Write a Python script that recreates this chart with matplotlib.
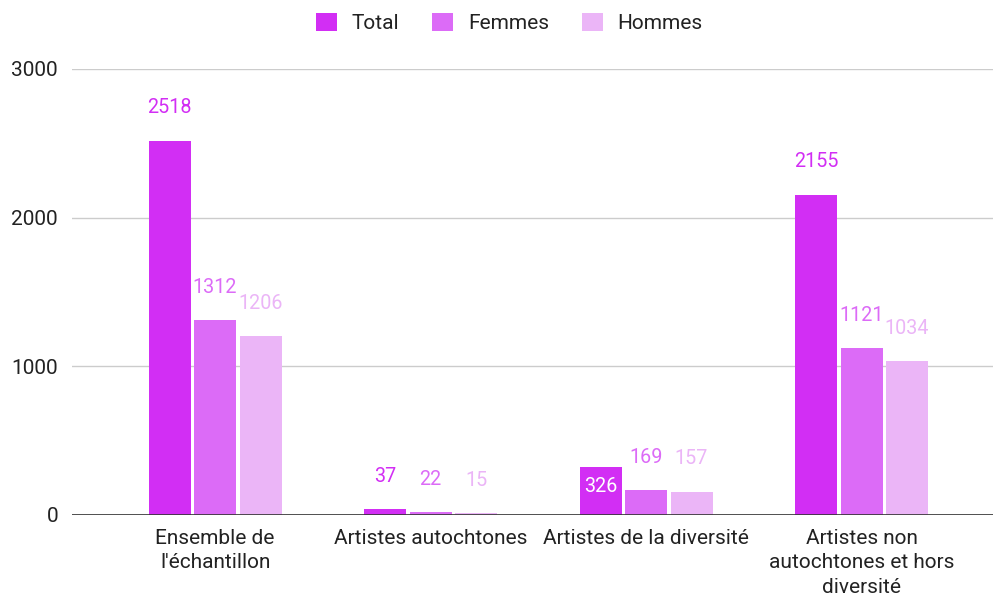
import matplotlib.pyplot as plt
import numpy as np

categories = ["Ensemble de\nl'échantillon", "Artistes autochtones",
              "Artistes de la diversité", "Artistes non\nautochtones et hors\ndiversité"]
series_names = ["Total", "Femmes", "Hommes"]
total = [2518, 37, 326, 2155]
femmes = [1312, 22, 169, 1121]
hommes = [1206, 15, 157, 1034]
colors = ["#d22ef4", "#dc6bf7", "#ebb5f7"]

plt.rcParams["font.family"] = ["Roboto", "DejaVu Sans"]

fig = plt.figure(figsize=(9.93, 5.96), dpi=100)
ax = fig.add_axes([72 / 993, 1 - 515 / 596, (993 - 72) / 993, (515 - 69) / 596])

x = np.arange(len(categories))
step = 0.211
width = 0.195
for i, (name, vals, c) in enumerate(zip(series_names, [total, femmes, hommes], colors)):
    pos = x + (i - 1) * step
    ax.bar(pos, vals, width=width, color=c, label=name, zorder=3)
    for p, v in zip(pos, vals):
        if name == "Total" and v == 326:
            # label sits inside the short bar
            ax.text(p, v - 135, str(v), ha="center", va="center", color="white", fontsize=14.2, zorder=4)
        else:
            ax.text(p, v + 220, str(v), ha="center", va="center", color=c, fontsize=14.2, zorder=4)

ax.set_xlim(-0.664, 3.61)
ax.set_ylim(0, 3000)
ax.set_yticks([0, 1000, 2000, 3000])
ax.yaxis.grid(True, color="#cccccc", linewidth=1, zorder=0)
ax.axhline(0, color="#333333", linewidth=1.2, zorder=5)
ax.set_xticks(x)
ax.set_xticklabels(categories, fontsize=15, color="#222222", linespacing=1.36)
ax.tick_params(axis="both", length=0)
ax.tick_params(axis="y", labelsize=15, labelcolor="#222222", pad=10)
ax.tick_params(axis="x", pad=10)
for s in ax.spines.values():
    s.set_visible(False)

fig.legend(loc="upper center", bbox_to_anchor=(0.513, 1.01), ncol=3, frameon=False,
           fontsize=15, handlelength=1.0, handleheight=1.0, columnspacing=1.6,
           handletextpad=0.7, labelcolor="#222222")

fig.savefig("out.png", dpi=100)
